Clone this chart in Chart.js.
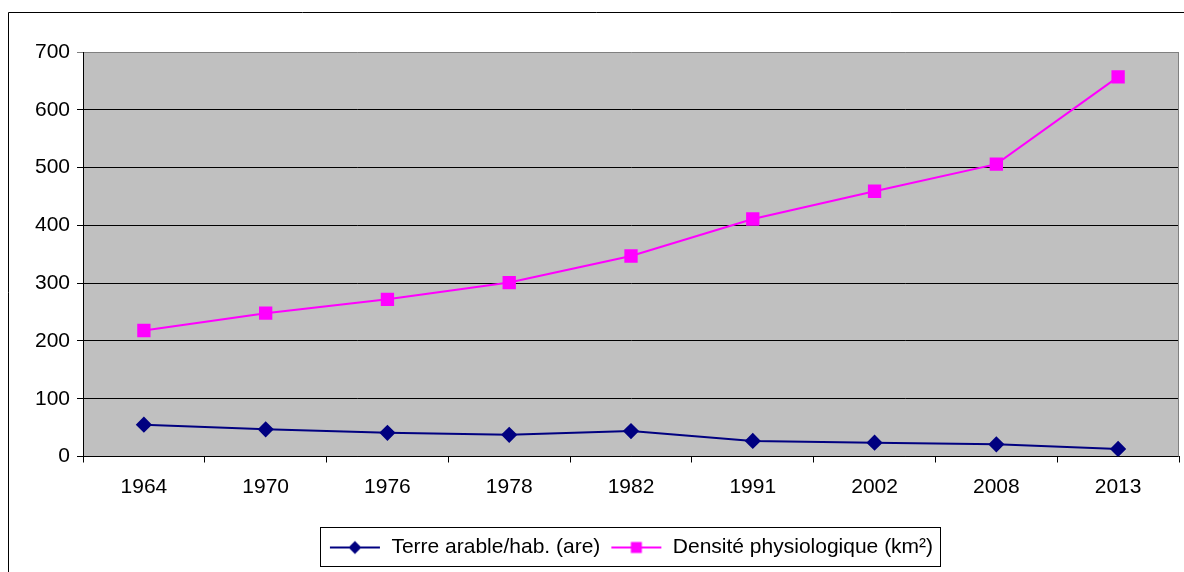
<!doctype html>
<html lang="fr">
<head>
  <meta charset="utf-8">
  <title>Terre arable et densité physiologique</title>
  <style>
    * { margin: 0; padding: 0; }
    html, body { background: white; overflow: hidden; }
    .chartBox { position: relative; width: 1184px; height: 572px; }
    canvas { display: block; }
  </style>
</head>
<body>
<div class="chartBox">
  <canvas id="myChart"></canvas>
</div>

<script src="https://cdn.jsdelivr.net/npm/chart.js"></script>
<script>
  // data
  const years = ['1964', '1970', '1976', '1978', '1982', '1991', '2002', '2008', '2013'];
  const terreArable = [55, 47, 41, 37.5, 44, 27, 24, 21, 13];
  const densite = [218, 248, 272, 301, 347, 411, 459, 506, 657];
  const yMin = 0;
  const yMax = 700;
  const yStep = 100;

  const navy = '#000080';
  const pink = '#ff00ff';
  const font = "'Liberation Sans', Arial, sans-serif";

  // little legend icons: line with the marker in the middle
  function legendIcon(color, shape) {
    const c = document.createElement('canvas');
    c.width = 52;
    c.height = 20;
    const g = c.getContext('2d');
    g.strokeStyle = color;
    g.lineWidth = 2;
    g.beginPath();
    g.moveTo(1, 10);
    g.lineTo(51, 10);
    g.stroke();
    g.fillStyle = color;
    if (shape === 'diamond') {
      g.beginPath();
      g.moveTo(26, 3.5);
      g.lineTo(32.5, 10);
      g.lineTo(26, 16.5);
      g.lineTo(19.5, 10);
      g.closePath();
      g.fill();
    } else {
      g.fillRect(20.5, 4.5, 11, 11);
    }
    return c;
  }
  const icons = [legendIcon(navy, 'diamond'), legendIcon(pink, 'square')];

  // grey plot area, frame, outer border and legend box
  const decor = {
    id: 'decor',
    beforeDraw(chart) {
      const { ctx, chartArea: a } = chart;
      ctx.save();
      ctx.fillStyle = '#c0c0c0';
      ctx.fillRect(a.left, a.top, a.right - a.left, a.bottom - a.top);
      ctx.restore();
    },
    afterDraw(chart) {
      const { ctx, chartArea: a } = chart;
      ctx.save();
      ctx.lineWidth = 1;
      // right side of plot frame
      ctx.strokeStyle = '#808080';
      ctx.beginPath();
      ctx.moveTo(Math.round(a.right) - 0.5, a.top);
      ctx.lineTo(Math.round(a.right) - 0.5, a.bottom);
      ctx.stroke();
      // outer chart border (left and top visible)
      ctx.strokeStyle = '#000';
      ctx.beginPath();
      ctx.moveTo(8.5, chart.height);
      ctx.lineTo(8.5, 12.5);
      ctx.lineTo(chart.width, 12.5);
      ctx.stroke();
      // legend frame
      const hb = chart.legend.legendHitBoxes;
      if (hb && hb.length) {
        const l = Math.min(...hb.map(h => h.left)) - 9;
        const r = Math.max(...hb.map(h => h.left + h.width)) + 7;
        const t = chart.legend.top;
        const b = t + 39;
        ctx.strokeRect(Math.round(l) + 0.5, Math.round(t) + 0.5, Math.round(r - l), Math.round(b - t));
      }
      ctx.restore();
    }
  };

  const data = {
    labels: years,
    datasets: [
      {
        label: 'Terre arable/hab. (are)',
        data: terreArable,
        borderColor: navy,
        backgroundColor: navy,
        borderWidth: 2,
        pointStyle: 'rectRot',
        pointRadius: 6.7,
        pointHoverRadius: 6.7,
        tension: 0
      },
      {
        label: 'Densité physiologique (km²)',
        data: densite,
        borderColor: pink,
        backgroundColor: pink,
        borderWidth: 2,
        pointStyle: 'rect',
        pointRadius: 8,
        pointHoverRadius: 8,
        tension: 0
      }
    ]
  };

  const config = {
    type: 'line',
    data,
    options: {
      responsive: true,
      maintainAspectRatio: false,
      animation: false,
      layout: { autoPadding: false, padding: { top: 52, right: 5, bottom: 4, left: 0 } },
      scales: {
        x: {
          offset: true,
          grid: {
            offset: true,
            drawOnChartArea: false,
            drawTicks: true,
            tickLength: 6,
            color: '#000'
          },
          border: { color: '#000', width: 1 },
          ticks: {
            padding: 12,
            color: '#000',
            maxRotation: 0,
            font: { family: font, size: 21 }
          },
          afterFit(scale) {
            scale.height = 70.5;
            scale.paddingLeft = 0;
            scale.paddingRight = 0;
          }
        },
        y: {
          min: yMin,
          max: yMax,
          ticks: {
            stepSize: yStep,
            padding: 7,
            color: '#000',
            font: { family: font, size: 21 }
          },
          grid: {
            tickLength: 6,
            color: ctx => ctx.tick && ctx.tick.value === yMax ? '#808080' : '#000'
          },
          border: { color: '#000', width: 1 },
          afterFit(scale) { scale.width = 83; }
        }
      },
      plugins: {
        legend: {
          position: 'bottom',
          fullSize: false,
          labels: {
            usePointStyle: true,
            pointStyleWidth: 52,
            color: '#000',
            padding: 10,
            font: { family: font, size: 21 },
            generateLabels(chart) {
              const items = Chart.defaults.plugins.legend.labels.generateLabels(chart);
              items.forEach((it, i) => { it.pointStyle = icons[i]; });
              return items;
            }
          }
        },
        tooltip: { enabled: false }
      }
    },
    plugins: [decor]
  };

  const myChart = new Chart(document.getElementById('myChart'), config);
</script>
</body>
</html>
